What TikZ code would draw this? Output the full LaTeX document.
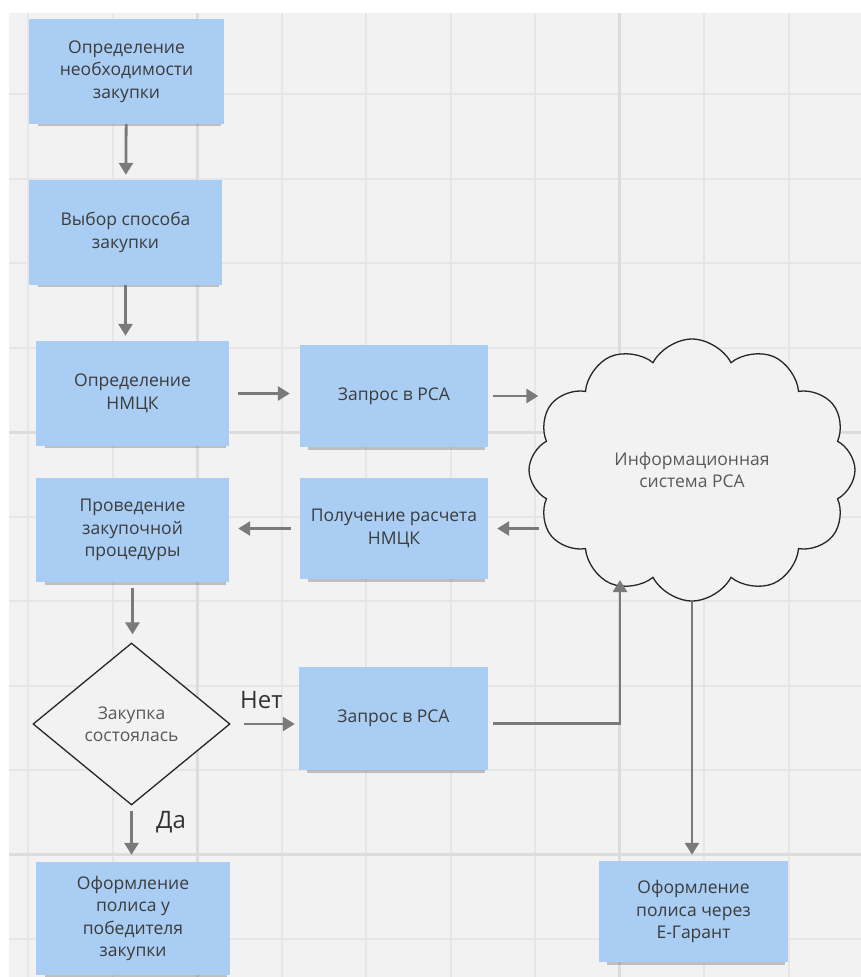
\documentclass[tikz,border=0pt]{standalone}
\usepackage{fontspec}
\setmainfont{Open Sans}
\usetikzlibrary{arrows.meta, positioning, shapes.geometric, shapes.symbols, shadows}
\definecolor{boardbg}{HTML}{F2F2F2}
\definecolor{boardgrid}{HTML}{E6E6E6}
\definecolor{boardmajor}{HTML}{DCDCDC}
\definecolor{stickyblue}{HTML}{A9CDF3}
\definecolor{inkgrey}{HTML}{3C3C3C}
\definecolor{arrowgrey}{HTML}{7A7A7A}
\tikzset{
  >={Triangle[length=12pt, width=14pt]},
  sticky/.style={rectangle, fill=stickyblue, align=center, text=inkgrey,
                 font=\fontsize{17.5}{22.5}\selectfont, inner sep=4pt,
                 drop shadow={shadow xshift=3pt, shadow yshift=-6pt, shadow scale=0.94,
                              opacity=0.3, fill=black!70}},
  decision/.style={diamond, draw=black!85, line width=1.3pt, fill=boardbg, align=center,
                   text=black!65, font=\fontsize{17.5}{22.5}\selectfont, inner sep=0pt,
                   minimum width=197pt, minimum height=162pt},
  infocloud/.style={cloud, cloud puffs=12, cloud puff arc=125, cloud ignores aspect,
                    shape border rotate=15,
                    draw=black!85, line width=1.3pt, fill=boardbg, align=center,
                    text=black!65, font=\fontsize{17.5}{22.5}\selectfont,
                    minimum width=326pt, minimum height=262pt},
  flow/.style={->, line width=2.8pt, draw=arrowgrey},
  lbl/.style={font=\fontsize{24}{28}\selectfont, text=black!80},
}

\begin{document}
\begin{tikzpicture}[x=1pt, y=-1pt]
  \useasboundingbox (0,0) rectangle (861,977);
  \fill[white] (0,0) rectangle (861,977);
  \fill[boardbg] (9,13) rectangle (861,977);
  % board grid
  \foreach \gx in {0,...,9}
    \draw[boardgrid, line width=2pt] ({28+84.5*\gx},13) -- ({28+84.5*\gx},977);
  \foreach \gy in {1,...,11}
    \draw[boardgrid, line width=2pt] (9,{9.5+84.5*\gy}) -- (861,{9.5+84.5*\gy});
  \foreach \gx in {2,7}
    \draw[boardmajor, line width=3pt] ({28+84.5*\gx},13) -- ({28+84.5*\gx},977);
  \foreach \gy in {5,10}
    \draw[boardmajor, line width=3pt] (9,{9.5+84.5*\gy}) -- (861,{9.5+84.5*\gy});

  \node[sticky, minimum width=195pt, minimum height=105pt] (need) at (126.5,71.5) {Определение\\необходимости\\закупки};
  \node[sticky, minimum width=193pt, minimum height=105pt] (method) at (125.5,232.5) {Выбор способа\\закупки};
  \node[sticky, minimum width=193pt, minimum height=105pt] (nmck) at (132.5,393.5) {Определение\\НМЦК};
  \node[sticky, minimum width=188pt, minimum height=102pt] (req) at (394,396) {Запрос в РСА};
  \node[sticky, minimum width=193pt, minimum height=104pt] (proc) at (132.5,530) {Проведение\\закупочной\\процедуры};
  \node[sticky, minimum width=188pt, minimum height=101pt] (calc) at (394,528.5) {Получение расчета\\НМЦК};
  \node[decision] (done) at (131.5,724) {Закупка\\состоялась};
  \node[sticky, minimum width=189pt, minimum height=103pt] (reqagain) at (393.5,718.5) {Запрос в РСА};
  \node[sticky, minimum width=194pt, minimum height=113pt] (winner) at (133,918.5) {Оформление\\полиса у\\победителя\\закупки};
  \node[infocloud] (rsa) at (692,470) {Информационная\\система РСА};
  \node[sticky, minimum width=189pt, minimum height=101pt] (egarant) at (693.5,911.5) {Оформление\\полиса через\\Е-Гарант};
  \coordinate (rsain) at (620,580);

  \draw[flow, shorten >=5pt] (need) -- (method);
  \draw[flow, shorten >=5pt] (method) -- (method |- nmck.north);
  \draw[flow, shorten <=9pt, shorten >=10pt] (nmck) -- (nmck -| req.west);
  \draw[flow, shorten <=5pt, shorten >=-10pt] (req) -- (req -| rsa.west);
  \draw[flow, shorten <=-11pt, shorten >=9pt] (rsa.west |- calc) -- (calc);
  \draw[flow, shorten <=9pt, shorten >=9pt] (calc) -- (calc -| proc.east);
  \draw[flow, shorten <=6pt, shorten >=8pt] (proc) -- (proc |- done.north);
  \draw[flow, shorten <=13pt, shorten >=4pt] (done) -- node[lbl, above=11pt, pos=0.45]{Нет} (done -| reqagain.west);
  \draw[flow, shorten <=5pt, shorten >=7pt] (done) -- node[lbl, right=20pt, pos=0.3]{Да} (done |- winner.north);
  \draw[flow, shorten <=5pt] ([yshift=-5pt]reqagain.east) -| (rsain);
  \draw[flow, shorten >=6pt] (rsa.south) -- (rsa.south |- egarant.north);
\end{tikzpicture}
\end{document}
